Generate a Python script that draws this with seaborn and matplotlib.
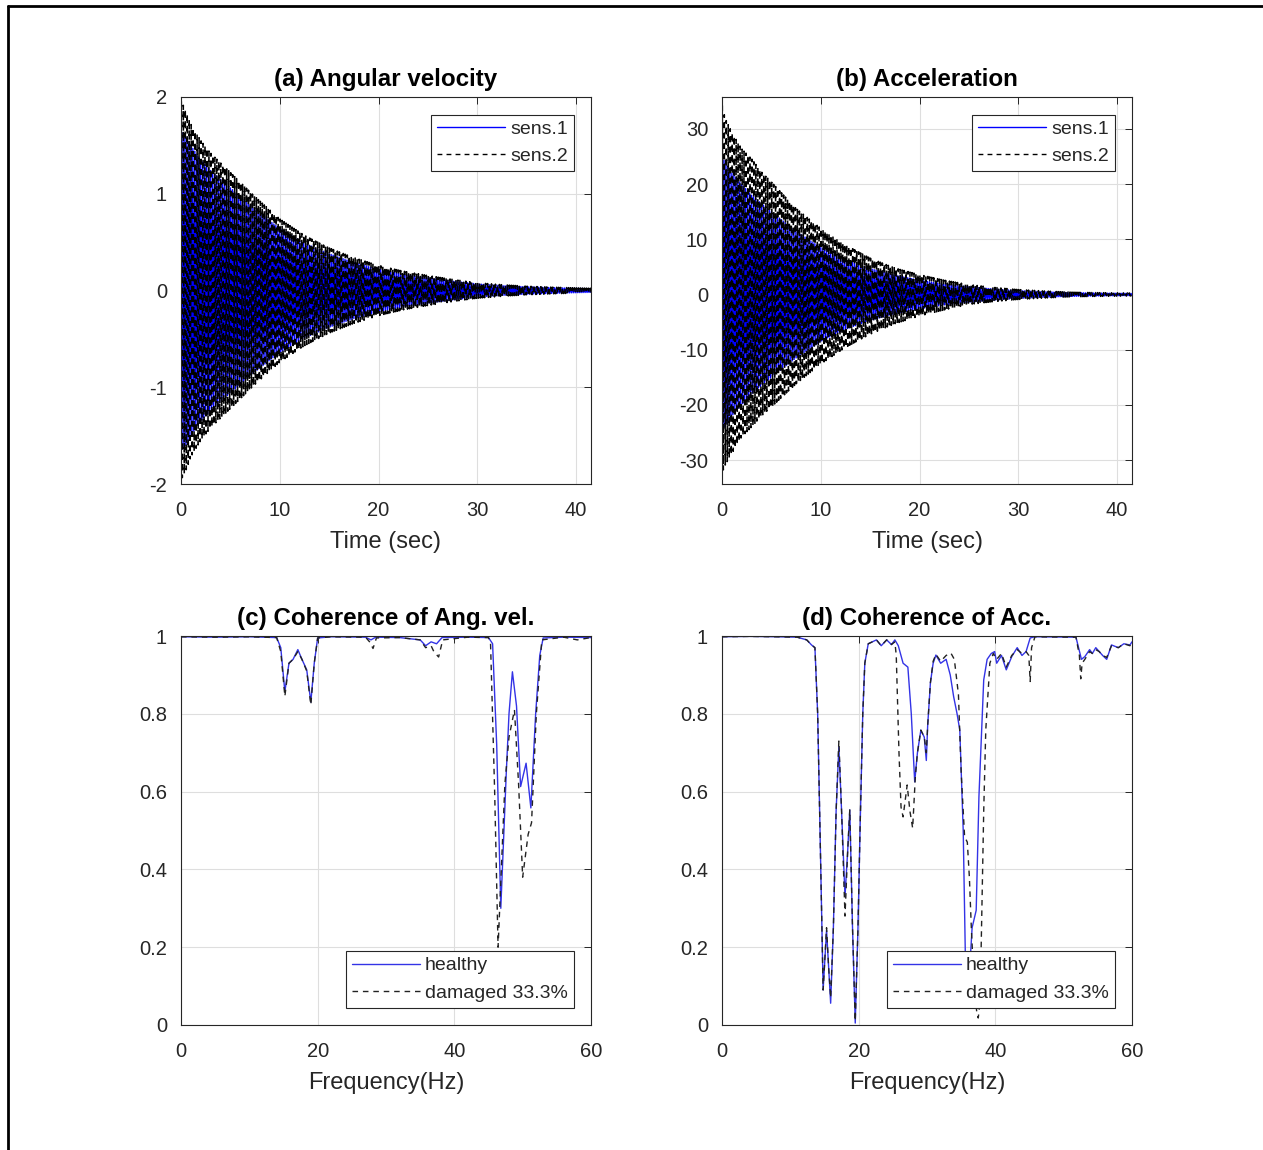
import numpy as np
import pandas as pd
import matplotlib
matplotlib.use("Agg")
import matplotlib.pyplot as plt
from matplotlib.lines import Line2D
import seaborn as sns

# ---------------- data ----------------
# envelope knots (time, s) of the decaying responses
env_a_t = [0, 0.5, 1, 2, 3, 5, 7.5, 10, 12.5, 15, 17.5, 20, 22.5, 25, 27.5, 30, 32.5, 35, 37.5, 40, 42]
env_a_sens1 = [1.65, 1.60, 1.50, 1.35, 1.24, 1.06, 0.84, 0.64, 0.49, 0.38, 0.29, 0.22, 0.17, 0.13, 0.097, 0.068, 0.05, 0.038, 0.03, 0.023, 0.018]
env_a_sens2 = [1.96, 1.86, 1.72, 1.55, 1.42, 1.22, 0.97, 0.74, 0.57, 0.44, 0.34, 0.26, 0.20, 0.155, 0.115, 0.08, 0.06, 0.045, 0.035, 0.027, 0.022]

env_b_t = [0, 0.3, 1, 2, 3, 4, 5, 7.5, 10, 12.5, 15, 17.5, 20, 22.5, 25, 27.5, 30, 32.5, 35, 37.5, 40, 42]
env_b_sens1 = [25, 24, 22, 20, 18, 16.5, 15, 11.5, 8.5, 6.3, 4.7, 3.5, 2.6, 1.9, 1.4, 1.0, 0.7, 0.5, 0.35, 0.27, 0.22, 0.18]
env_b_sens2_top = [34.5, 32, 29.4, 26.4, 24.6, 22.2, 20.4, 15.6, 12.0, 9.0, 6.6, 4.8, 3.6, 2.6, 1.8, 1.3, 0.9, 0.65, 0.45, 0.35, 0.3, 0.25]
env_b_sens2_bot = [32.4, 31, 28.8, 25.8, 24, 22, 20.4, 16.2, 12.6, 9.6, 7.2, 5.3, 3.9, 2.8, 1.8, 1.3, 0.9, 0.65, 0.45, 0.35, 0.3, 0.25]
half_period = 0.1  # spacing of successive peaks (s)

# coherence of angular velocity
fc_h = [0, 5, 10, 14, 14.6, 15.2, 15.8, 16.4, 17.1, 17.7, 18.4, 19.0, 19.5, 20.0, 22, 27, 27.8, 28.5, 32, 35,
        35.8, 36.6, 37.4, 38.2, 42, 45.0, 45.6, 46.2, 46.8, 47.6, 48.0, 48.5, 49.1, 49.7, 50.5, 51.2, 51.9, 52.5, 53.0, 56, 60]
vc_h = [0.998, 0.997, 0.998, 0.996, 0.97, 0.857, 0.93, 0.94, 0.965, 0.94, 0.913, 0.83, 0.93, 0.995, 0.998, 0.997,
        0.99, 0.997, 0.996, 0.99, 0.975, 0.985, 0.98, 0.996, 0.997, 0.996, 0.98, 0.72, 0.30, 0.648, 0.80, 0.908, 0.82,
        0.613, 0.673, 0.558, 0.80, 0.95, 0.995, 0.997, 0.996]
fc_d = [0, 5, 10, 14, 14.6, 15.2, 15.8, 16.4, 17.1, 17.7, 18.4, 19.0, 19.5, 20.0, 22, 27, 27.6, 28.1, 28.6, 32, 35,
        35.8, 36.6, 37.0, 37.7, 38.3, 42, 45.0, 45.3, 45.9, 46.4, 47.4, 48.0, 48.8, 49.4, 50.0, 50.8, 51.3, 52.0, 52.8,
        56, 58, 60]
vc_d = [0.998, 0.997, 0.998, 0.996, 0.96, 0.845, 0.93, 0.94, 0.96, 0.94, 0.91, 0.823, 0.93, 0.995, 0.998, 0.997,
        0.985, 0.968, 0.995, 0.996, 0.99, 0.97, 0.975, 0.96, 0.946, 0.99, 0.997, 0.996, 0.98, 0.60, 0.20, 0.62, 0.74,
        0.81, 0.62, 0.38, 0.49, 0.52, 0.80, 0.99, 0.997, 0.99, 0.996]

# coherence of acceleration
fd_h = [0, 4, 8, 11, 12.4, 13.1, 13.6, 14.0, 14.4, 14.8, 15.3, 15.6, 15.9, 16.3, 16.7, 17.1, 17.5, 18.0, 18.4, 18.7,
        19.1, 19.5, 19.9, 20.2, 20.6, 20.9, 21.4, 22.0, 22.6, 23.3, 24.1, 24.8, 25.3, 25.8, 26.5, 27.2, 27.7, 28.2,
        28.6, 29.1, 29.6, 29.9, 30.1, 30.5, 30.9, 31.3, 32.0, 32.8, 33.4, 33.9, 34.4, 34.8, 35.3, 35.6, 36.0, 36.3,
        36.6, 37.2, 37.6, 38.3, 38.8, 39.4, 39.9, 40.2, 40.9, 41.6, 42.4, 43.2, 43.9, 44.5, 45.1, 45.8, 51.8, 52.6,
        53.1, 53.8, 54.2, 54.7, 55.2, 55.7, 56.3, 57.0, 58.0, 58.8, 59.7, 60]
vd_h = [0.998, 0.999, 0.998, 0.997, 0.99, 0.977, 0.97, 0.80, 0.45, 0.09, 0.244, 0.15, 0.056, 0.25, 0.55, 0.715,
        0.55, 0.33, 0.45, 0.553, 0.25, 0.005, 0.25, 0.50, 0.80, 0.93, 0.98, 0.985, 0.99, 0.975, 0.99, 0.978, 0.99,
        0.975, 0.93, 0.92, 0.80, 0.625, 0.70, 0.758, 0.74, 0.68, 0.77, 0.88, 0.93, 0.951, 0.93, 0.94, 0.90, 0.844,
        0.80, 0.758, 0.50, 0.19, 0.10, 0.16, 0.25, 0.295, 0.587, 0.887, 0.94, 0.955, 0.96, 0.93, 0.95, 0.913, 0.947,
        0.97, 0.95, 0.96, 0.995, 0.998, 0.997, 0.94, 0.947, 0.965, 0.955, 0.97, 0.96, 0.95, 0.94, 0.977, 0.97,
        0.98, 0.977, 0.985]
fd_d = [0, 4, 8, 11, 12.4, 13.1, 13.6, 14.0, 14.4, 14.8, 15.3, 15.6, 15.9, 16.3, 16.7, 17.1, 17.5, 18.0, 18.4, 18.7,
        19.1, 19.5, 19.9, 20.2, 20.6, 20.9, 21.4, 22.0, 22.6, 23.3, 24.1, 24.8, 25.3, 25.5, 25.9, 26.2, 26.5, 27.1,
        27.5, 27.9, 28.3, 28.6, 29.1, 29.6, 29.9, 30.1, 30.5, 30.9, 31.3, 32.0, 32.8, 33.5, 34.0, 34.6, 35.0, 35.5,
        35.9, 36.2, 36.5, 36.9, 37.3, 37.5, 37.7, 37.9, 38.3, 38.6, 39.2, 39.7, 40.2, 40.9, 41.6, 42.4, 43.2, 43.9,
        44.5, 44.9, 45.1, 45.3, 45.8, 51.8, 52.3, 52.5, 52.7, 53.1, 53.8, 54.2, 54.7, 55.2, 55.7, 56.3, 57.0, 58.0,
        58.8, 59.7, 60]
vd_d = [0.998, 0.999, 0.998, 0.997, 0.99, 0.977, 0.97, 0.80, 0.45, 0.09, 0.25, 0.15, 0.07, 0.25, 0.55, 0.73,
        0.55, 0.28, 0.45, 0.553, 0.25, 0.01, 0.25, 0.50, 0.80, 0.93, 0.98, 0.985, 0.99, 0.975, 0.99, 0.978, 0.985,
        0.95, 0.70, 0.56, 0.535, 0.617, 0.55, 0.506, 0.64, 0.70, 0.758, 0.74, 0.70, 0.77, 0.88, 0.935, 0.953, 0.935,
        0.95, 0.956, 0.94, 0.85, 0.65, 0.484, 0.47, 0.38, 0.244, 0.10, 0.03, 0.018, 0.05, 0.175, 0.55, 0.758, 0.93,
        0.955, 0.94, 0.955, 0.92, 0.95, 0.965, 0.955, 0.96, 0.95, 0.883, 0.97, 0.998, 0.997, 0.95, 0.89, 0.93,
        0.94, 0.96, 0.955, 0.965, 0.96, 0.95, 0.945, 0.975, 0.97, 0.98, 0.975, 0.985]

time_xticks = [0, 10, 20, 30, 40]
a_yticks = [-2, -1, 0, 1, 2]
b_yticks = [-30, -20, -10, 0, 10, 20, 30]
coh_xticks = [0, 20, 40, 60]
coh_yticks = [0, 0.2, 0.4, 0.6, 0.8, 1]
coh_yticklabels = ["0", "0.2", "0.4", "0.6", "0.8", "1"]

titles = ["(a) Angular velocity", "(b) Acceleration", "(c) Coherence of Ang. vel.", "(d) Coherence of Acc."]
time_label = "Time (sec)"
freq_label = "Frequency(Hz)"
ts_legend = ["sens.1", "sens.2"]
coh_legend = ["healthy", "damaged 33.3%"]

# ---------------- style ----------------
sns.set_style("white")
plt.rcParams["font.family"] = ["Liberation Sans", "DejaVu Sans"]
DARK = "#262626"
plt.rcParams.update({
    "axes.edgecolor": DARK, "axes.linewidth": 0.8,
    "xtick.color": DARK, "ytick.color": DARK,
    "xtick.labelcolor": DARK, "ytick.labelcolor": DARK,
})

W, H = 1263, 1150
fig = plt.figure(figsize=(W / 100, H / 100), dpi=100)
fig.patch.set_facecolor("white")


def add_ax(x0, x1, y0, y1):
    return fig.add_axes([x0 / W, 1 - y1 / H, (x1 - x0) / W, (y1 - y0) / H])


ax_a = add_ax(181, 591, 97, 484)
ax_b = add_ax(722, 1132, 97, 484)
ax_c = add_ax(181, 591, 636, 1025)
ax_d = add_ax(722, 1132, 636, 1025)


def oscillation(env_t, env_top, env_bot, shift):
    tp = np.arange(0, 42.0, half_period) + shift
    top = np.interp(tp, env_t, env_top)
    bot = np.interp(tp, env_t, env_bot)
    sign = np.where(np.arange(tp.size) % 2 == 0, 1.0, -1.0)
    vals = np.where(sign > 0, top, -bot)
    return tp, vals


BLUE = "#0000ff"
dash = (0, (4, 3.5))
dash_ts = (0, (3.5, 3.0))

# (a)
t1, y1 = oscillation(env_a_t, env_a_sens1, env_a_sens1, 0.0)
t2, y2 = oscillation(env_a_t, env_a_sens2, env_a_sens2, 0.03)
sns.lineplot(x=t1, y=y1, ax=ax_a, color=BLUE, lw=1.0, label=ts_legend[0], sort=False)
sns.lineplot(x=t2, y=y2, ax=ax_a, color="black", lw=1.15, linestyle=dash_ts, label=ts_legend[1], sort=False)
# (b)
t1, y1 = oscillation(env_b_t, env_b_sens1, env_b_sens1, 0.0)
t2, y2 = oscillation(env_b_t, env_b_sens2_top, env_b_sens2_bot, 0.03)
sns.lineplot(x=t1, y=y1, ax=ax_b, color=BLUE, lw=1.0, label=ts_legend[0], sort=False)
sns.lineplot(x=t2, y=y2, ax=ax_b, color="black", lw=1.15, linestyle=dash_ts, label=ts_legend[1], sort=False)
# (c)
sns.lineplot(x=fc_h, y=vc_h, ax=ax_c, color="#3333e6", lw=1.0, label=coh_legend[0], sort=False)
sns.lineplot(x=fc_d, y=vc_d, ax=ax_c, color="#222222", lw=1.0, linestyle=dash, label=coh_legend[1], sort=False)
# (d)
sns.lineplot(x=fd_h, y=vd_h, ax=ax_d, color="#3333e6", lw=1.0, label=coh_legend[0], sort=False)
sns.lineplot(x=fd_d, y=vd_d, ax=ax_d, color="#222222", lw=1.0, linestyle=dash, label=coh_legend[1], sort=False)

TICK_FS = 14.5
LABEL_FS = 17
TITLE_FS = 17.4
LEG_FS = 14


def style(ax, title, xlabel, xlim, ylim, xticks, yticks, yticklabels=None):
    ax.set_xlim(*xlim)
    ax.set_ylim(*ylim)
    ax.set_xticks(xticks)
    ax.set_yticks(yticks)
    ax.set_xticklabels([str(v) for v in xticks])
    if yticklabels is None:
        yticklabels = [str(v) for v in yticks]
    ax.set_yticklabels(yticklabels)
    ax.grid(True, color="#dedede", lw=0.8)
    ax.set_axisbelow(True)
    for s in ax.spines.values():
        s.set_visible(True)
        s.set_color(DARK)
        s.set_linewidth(0.8)
    ax.tick_params(direction="in", top=True, right=True, length=5, width=0.7,
                   labelsize=TICK_FS)
    ax.tick_params(axis="x", pad=12)
    ax.tick_params(axis="y", pad=10)
    ax.set_title(title, fontsize=TITLE_FS, fontweight="bold", color="black", pad=8)
    ax.set_xlabel(xlabel, fontsize=LABEL_FS, color=DARK, labelpad=8)
    ax.set_ylabel("")


style(ax_a, titles[0], time_label, (0, 41.5), (-2, 2), time_xticks, a_yticks)
style(ax_b, titles[1], time_label, (0, 41.5), (-34.35, 35.8), time_xticks, b_yticks)
style(ax_c, titles[2], freq_label, (0, 60), (0, 1), coh_xticks, coh_yticks, coh_yticklabels)
style(ax_d, titles[3], freq_label, (0, 60), (0, 1), coh_xticks, coh_yticks, coh_yticklabels)

for ax, loc in [(ax_a, "upper right"), (ax_b, "upper right"), (ax_c, "lower right"), (ax_d, "lower right")]:
    leg = ax.legend(loc=loc, fontsize=LEG_FS, frameon=True, fancybox=False, framealpha=1,
                    edgecolor=DARK, borderpad=0.3, labelspacing=0.5, handlelength=3.5,
                    handletextpad=0.25, borderaxespad=0.9)
    leg.get_frame().set_linewidth(0.8)
    leg.set_zorder(10)
    for h in leg.get_lines():
        h.set_linewidth(1.0)

# outer frame lines (top and left)
fig.add_artist(Line2D([7.5 / W, 1.0], [1 - 5.5 / H, 1 - 5.5 / H], transform=fig.transFigure, color="black", lw=2))
fig.add_artist(Line2D([7.5 / W, 7.5 / W], [0, 1 - 5.5 / H], transform=fig.transFigure, color="black", lw=2))

fig.savefig("out.png", dpi=100)
